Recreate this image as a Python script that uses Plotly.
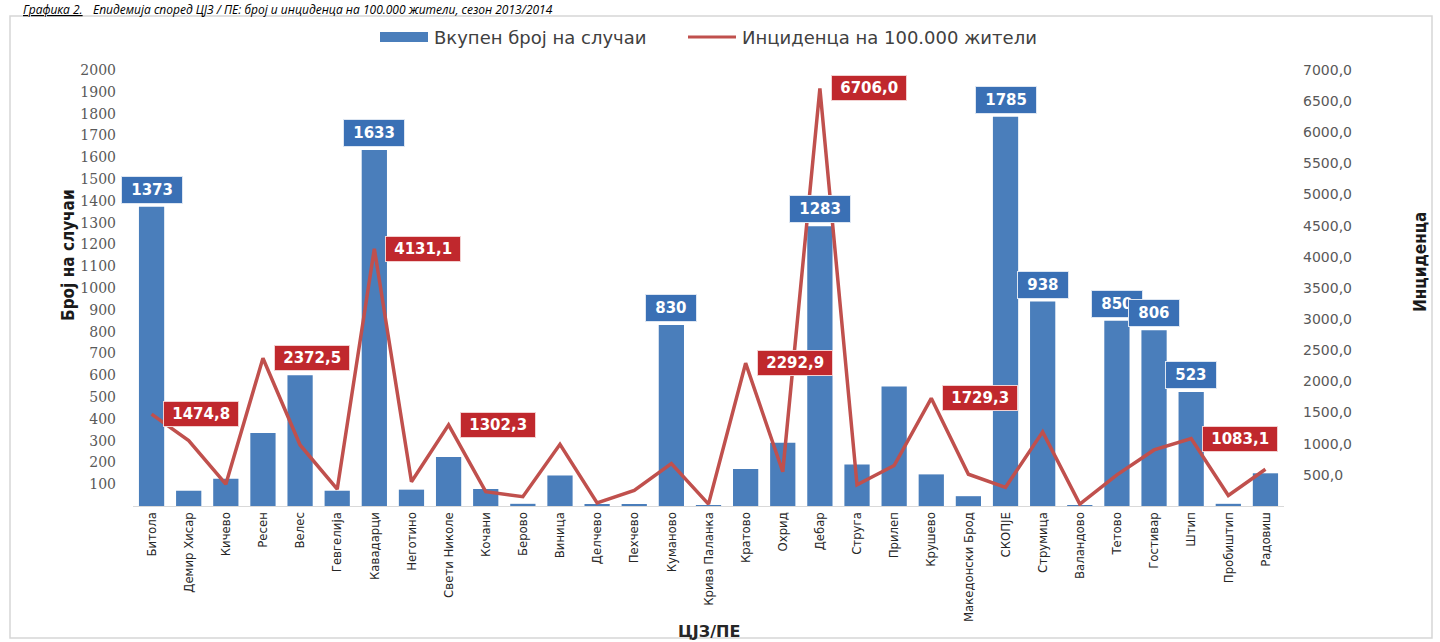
import plotly.graph_objects as go

categories = ["Битола", "Демир Хисар", "Кичево", "Ресен", "Велес", "Гевгелија", "Кавадарци",
              "Неготино", "Свети Николе", "Кочани", "Берово", "Виница", "Делчево", "Пехчево",
              "Куманово", "Крива Паланка", "Кратово", "Охрид", "Дебар", "Струга", "Прилеп",
              "Крушево", "Македонски Брод", "СКОПЈЕ", "Струмица", "Валандово", "Тетово",
              "Гостивар", "Штип", "Пробиштип", "Радовиш"]

cases = [1373, 70, 125, 335, 600, 70, 1633, 75, 225, 78, 10, 140, 5, 5, 830, 3, 170, 290,
         1283, 190, 548, 145, 45, 1785, 938, 2, 850, 806, 523, 10, 150]

incidence = [1474.8, 1050, 350, 2372.5, 980, 270, 4131.1, 390, 1302.3, 230, 150, 990, 50, 250,
             680, 30, 2292.9, 550, 6706.0, 340, 650, 1729.3, 510, 300, 1190, 30, 500, 900,
             1083.1, 170, 590]

bar_label_cats = ["Битола", "Кавадарци", "Куманово", "Дебар", "СКОПЈЕ", "Струмица",
                  "Тетово", "Гостивар", "Штип"]
line_label_cats = ["Битола", "Ресен", "Кавадарци", "Свети Николе", "Кратово", "Дебар",
                   "Крушево", "Штип"]

left_ticks = list(range(100, 2001, 100))
right_ticks = list(range(500, 7001, 500))

series_names = ["Вкупен број на случаи", "Инциденца на 100.000 жители"]
caption_lead = "Графика 2."
caption_rest = "Епидемија според ЦЈЗ / ПЕ: број и инциденца на 100.000 жители, сезон 2013/2014"
x_title = "ЦЈЗ/ПЕ"
y_title = "Број на случаи"
y2_title = "Инциденца"

BLUE = "#4A7EBB"
RED = "#C0504D"
NARROW = "Liberation Sans Narrow, DejaVu Sans Condensed, Arial Narrow, sans-serif"

# layout geometry (pixels) -> paper coordinates
W, H = 1440, 642
L, R, T, B = 133, 1284, 70, 506


def px(x):
    return (x - L) / (R - L)


def py(y):
    return (B - y) / (B - T)


fig = go.Figure()
fig.add_trace(go.Bar(x=categories, y=cases, name=series_names[0], marker_color=BLUE,
                     marker_line_width=0, yaxis="y", showlegend=False))
fig.add_trace(go.Scatter(x=categories, y=incidence, name=series_names[1], mode="lines",
                         line=dict(color=RED, width=3.5), yaxis="y2", showlegend=False))

annotations = []
for c in bar_label_cats:
    v = cases[categories.index(c)]
    annotations.append(dict(x=c, y=v, xref="x", yref="y", text=f" {v} ", showarrow=False,
                            yanchor="bottom", yshift=3,
                            font=dict(family="DejaVu Sans", size=15, color="white", weight="bold"),
                            bgcolor="#3A70B5", bordercolor="#DDE6F2", borderwidth=1, borderpad=4))
for c in line_label_cats:
    v = incidence[categories.index(c)]
    txt = f"{v:.1f}".replace(".", ",")
    annotations.append(dict(x=c, y=v, xref="x", yref="y2", text=f" {txt} ", showarrow=False,
                            xanchor="left", yanchor="middle", xshift=11,
                            font=dict(family="DejaVu Sans", size=15, color="white", weight="bold"),
                            bgcolor="#C0282D", bordercolor="#F2D0D0", borderwidth=1, borderpad=3))

# axis titles
annotations.append(dict(x=0.5, y=py(631), xref="paper", yref="paper", text=x_title,
                        showarrow=False, yanchor="middle",
                        font=dict(family="DejaVu Sans", size=16, color="#262626", weight="bold")))
annotations.append(dict(x=px(68), y=py(255), xref="paper", yref="paper", text=y_title,
                        showarrow=False, textangle=-90, xanchor="center", yanchor="middle",
                        font=dict(family=NARROW, size=17, color="#1a1a1a", weight="bold")))
annotations.append(dict(x=px(1420), y=py(262), xref="paper", yref="paper", text=y2_title,
                        showarrow=False, textangle=-90, xanchor="center", yanchor="middle",
                        font=dict(family=NARROW, size=17, color="#1a1a1a", weight="bold")))
# caption (top of page)
annotations.append(dict(x=px(22), y=py(0.5), xref="paper", yref="paper", text=caption_lead,
                        showarrow=False, xanchor="left", yanchor="top", borderpad=0,
                        font=dict(family="Open Sans", size=12, color="black", style="italic",
                                  lineposition="under")))
annotations.append(dict(x=px(92), y=py(0.5), xref="paper", yref="paper", text=caption_rest,
                        showarrow=False, xanchor="left", yanchor="top", borderpad=0,
                        font=dict(family="Open Sans", size=12, color="black", style="italic")))

# legend (drawn by hand to match the wide symbols)
legend_font = dict(family="DejaVu Sans", size=18, color="#404040")
annotations.append(dict(x=px(432), y=py(37), xref="paper", yref="paper", text=series_names[0],
                        showarrow=False, xanchor="left", yanchor="middle", font=legend_font))
annotations.append(dict(x=px(740), y=py(37), xref="paper", yref="paper", text=series_names[1],
                        showarrow=False, xanchor="left", yanchor="middle", font=legend_font))

shapes = [
    dict(type="rect", xref="paper", yref="paper", x0=px(10), x1=px(1432),
         y0=py(638), y1=py(16), line=dict(color="#D6D6D6", width=1.5), layer="below"),
    dict(type="rect", xref="paper", yref="paper", x0=px(380), x1=px(428),
         y0=py(42), y1=py(32), line=dict(width=0), fillcolor=BLUE),
    dict(type="line", xref="paper", yref="paper", x0=px(688), x1=px(736),
         y0=py(37), y1=py(37), line=dict(color=RED, width=3)),
]

fig.update_layout(
    width=W, height=H,
    margin=dict(l=L, r=W - R, t=T, b=H - B, autoexpand=False),
    paper_bgcolor="white", plot_bgcolor="white",
    bargap=0.32,
    showlegend=False,
    xaxis=dict(type="category", tickangle=-90, showgrid=False, showline=True,
               linecolor="#D9D9D9", linewidth=1, ticks="", automargin=False,
               tickfont=dict(family=NARROW, size=13, color="#262626"),
               range=[-0.5, len(categories) - 0.5]),
    yaxis=dict(range=[0, 2000], tickvals=left_ticks, ticktext=[str(t) for t in left_ticks],
               showgrid=False, zeroline=False, showline=False, ticks="", automargin=False,
               ticklabelstandoff=16,
               tickfont=dict(family="DejaVu Serif", size=14, color="#595959")),
    yaxis2=dict(range=[0, 7000], overlaying="y", side="right", automargin=False,
                tickvals=right_ticks, ticktext=[f"{t},0" for t in right_ticks],
                showgrid=False, zeroline=False, showline=False, ticks="",
                ticklabelstandoff=18,
                tickfont=dict(family="DejaVu Sans", size=14, color="#595959")),
    annotations=annotations,
    shapes=shapes,
)

fig.write_html("out.html", config={"displayModeBar": False},
               post_script="document.body.style.margin='0';document.body.style.padding='0';")
